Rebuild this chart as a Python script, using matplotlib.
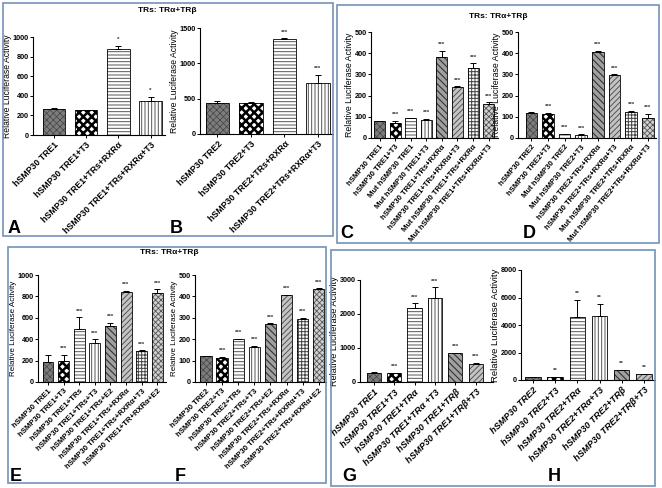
import matplotlib
matplotlib.use('Agg')
import matplotlib.pyplot as plt
from matplotlib.patches import Rectangle

plt.rcParams['font.family'] = ['Liberation Sans', 'DejaVu Sans']
plt.rcParams['font.weight'] = 'bold'

W, H = 662, 488
fig = plt.figure(figsize=(6.62, 4.88), dpi=100)

# ---- data ----
a_labels = ['hSMP30 TRE1', 'hSMP30 TRE1+T3', 'hSMP30 TRE1+TRs+RXRα', 'hSMP30 TRE1+TRs+RXRα+T3']
a_values = [270, 258, 880, 350]
a_errors = [10, 0, 30, 40]
a_stars = ['', '', '*', '*']

b_labels = ['hSMP30 TRE2', 'hSMP30 TRE2+T3', 'hSMP30 TRE2+TRs+RXRα', 'hSMP30 TRE2+TRs+RXRα+T3']
b_values = [440, 440, 1340, 720]
b_errors = [30, 15, 15, 120]
b_stars = ['', '', '***', '***']

c_labels = ['hSMP30 TRE1', 'hSMP30 TRE1+T3', 'Mut hSMP30 TRE1', 'Mut hSMP30 TRE1+T3',
            'hSMP30 TRE1+TRs+RXRα', 'hSMP30 TRE1+TRs+RXRα+T3',
            'Mut hSMP30 TRE1+TRs+RXRα', 'Mut hSMP30 TRE1+TRs+RXRα+T3']
c_values = [78, 72, 93, 87, 382, 240, 328, 160]
c_errors = [3, 8, 3, 3, 28, 3, 25, 8]
c_stars = [''] + ['***'] * 7

d_labels = ['hSMP30 TRE2', 'hSMP30 TRE2+T3', 'Mut hSMP30 TRE2', 'Mut hSMP30 TRE2+T3',
            'hSMP30 TRE2+TRs+RXRα', 'hSMP30 TRE2+TRs+RXRα+T3',
            'Mut hSMP30 TRE2+TRs+RXRα', 'Mut hSMP30 TRE2+TRs+RXRα+T3']
d_values = [120, 115, 18, 15, 408, 298, 125, 93]
d_errors = [1, 3, 3, 2, 2, 2, 3, 20]
d_stars = [''] + ['***'] * 7

e_labels = ['hSMP30 TRE1', 'hSMP30 TRE1+T3', 'hSMP30 TRE1+TRs', 'hSMP30 TRE1+TRs+T3',
            'hSMP30 TRE1+TRs+E2', 'hSMP30 TRE1+TRs+RXRα', 'hSMP30 TRE1+TRs+RXRα+T3',
            'hSMP30 TRE1+TR+RXRα+E2']
e_values = [190, 200, 500, 365, 520, 845, 290, 835]
e_errors = [60, 55, 105, 35, 35, 5, 5, 30]
e_stars = [''] + ['***'] * 7

f_labels = ['hSMP30 TRE2', 'hSMP30 TRE2+T3', 'hSMP30 TRE2+TRs', 'hSMP30 TRE2+TRs+T3',
            'hSMP30 TRE2+TRs+E2', 'hSMP30 TRE2+TRs+RXRα', 'hSMP30 TRE2+TRs+RXRα+T3',
            'hSMP30 TRE2+TRs+RXRα+E2']
f_values = [120, 113, 200, 165, 272, 408, 296, 435]
f_errors = [0, 3, 2, 5, 2, 0, 3, 3]
f_stars = [''] + ['***'] * 7

g_labels = ['hSMP30 TRE1', 'hSMP30 TRE1+T3', 'hSMP30 TRE1+TRα', 'hSMP30 TRE1+TRα +T3',
            'hSMP30 TRE1+TRβ', 'hSMP30 TRE1+TRβ+T3']
g_values = [270, 255, 2170, 2470, 850, 540]
g_errors = [20, 10, 150, 320, 10, 30]
g_stars = [''] + ['***'] * 5

h_labels = ['hSMP30 TRE2', 'hSMP30 TRE2+T3', 'hSMP30 TRE2+TRα', 'hSMP30 TRE2+TRα+T3',
            'hSMP30 TRE2+TRβ', 'hSMP30 TRE2+TRβ+T3']
h_values = [230, 200, 4600, 4650, 700, 420]
h_errors = [20, 20, 1200, 900, 40, 30]
h_stars = [''] + ['**'] * 5

# bar fills: face, hatch, hatch colour, hatch linewidth
STYLES = [
    ('#7c7c7c', 'xxxxx', '#444444', 0.5),
    ('white', 'xxxx', 'black', 1.8),
    ('white', '-----', '#555555', 0.7),
    ('white', '|||||', '#555555', 0.7),
    ('#a0a0a0', '\\\\\\\\\\', '#333333', 0.8),
    ('#c4c4c4', '//////', '#555555', 0.7),
    ('white', '+++++', '#444444', 0.7),
    ('#d0d0d0', 'xxxxxx', '#555555', 0.6),
]


def px_axes(left, right, top, zero):
    return fig.add_axes([left / W, 1 - zero / H, (right - left) / W, (zero - top) / H])


def panel(rect, values, errors, stars, labels, ymax, yticks, xlim,
          lab_size=6, rot=45, ylab_size=6, italic=False, width=0.7):
    ax = px_axes(*rect)
    for i, v in enumerate(values):
        face, hatch, hcol, hlw = STYLES[i]
        with plt.rc_context({'hatch.linewidth': hlw}):
            ax.bar(i, v, width, color=face, hatch=hatch, edgecolor=hcol, linewidth=0)
        ax.bar(i, v, width, fill=False, edgecolor='black', linewidth=0.6)
    n = len(values)
    ax.errorbar(range(n), values, yerr=[[0] * n, errors], fmt='none', ecolor='black',
                elinewidth=0.7, capsize=2.5, capthick=0.7)
    for i, (v, e, s) in enumerate(zip(values, errors, stars)):
        if s:
            ax.text(i, v + e + ymax * 0.035, s, ha='center', va='bottom', fontsize=4.5, color='#333333')
    ax.set_xlim(*xlim)
    ax.set_ylim(0, ymax)
    ax.set_yticks(yticks)
    ax.set_xticks(range(n))
    ax.set_xticklabels(labels, rotation=rot, ha='right', rotation_mode='anchor',
                       fontsize=lab_size, style='italic' if italic else 'normal')
    ax.tick_params(axis='y', labelsize=5.2, length=2, width=0.7, pad=1)
    ax.tick_params(axis='x', length=2.5, width=0.7, pad=1.5)
    for s in ['top', 'right']:
        ax.spines[s].set_visible(False)
    for s in ['left', 'bottom']:
        ax.spines[s].set_linewidth(0.8)
    ax.set_ylabel('Relative Luciferase Activity', fontsize=ylab_size, labelpad=0.5)
    ax.patch.set_alpha(0)
    return ax


panel((33, 165, 37, 135), a_values, a_errors, a_stars, a_labels, 1000, range(0, 1001, 200),
      (-0.65, 3.45), lab_size=6.3, ylab_size=6.2)
panel((200, 333, 28, 134), b_values, b_errors, b_stars, b_labels, 1500, [0, 500, 1000, 1500],
      (-0.52, 3.45), lab_size=6.3, ylab_size=6.2)
panel((371, 498, 32, 138), c_values, c_errors, c_stars, c_labels, 500, range(0, 501, 100),
      (-0.55, 7.6), lab_size=5.5, rot=50, ylab_size=6.3)
panel((518, 656, 32, 138), d_values, d_errors, d_stars, d_labels, 500, range(0, 501, 100),
      (-0.81, 7.5), lab_size=5.5, rot=50, ylab_size=6.3)
panel((38, 166, 275, 382), e_values, e_errors, e_stars, e_labels, 1000, range(0, 1001, 200),
      (-0.64, 7.56), lab_size=5.6, ylab_size=5.8)
panel((195, 326, 275, 382), f_values, f_errors, f_stars, f_labels, 500, range(0, 501, 100),
      (-0.68, 7.45), lab_size=5.6, ylab_size=5.8)
panel((360, 493, 280, 382), g_values, g_errors, g_stars, g_labels, 3000, [0, 1000, 2000, 3000],
      (-0.68, 5.85), lab_size=6.6, ylab_size=6.6, italic=True)
panel((521, 655, 270, 380), h_values, h_errors, h_stars, h_labels, 8000, range(0, 8001, 2000),
      (-0.54, 5.5), lab_size=6.6, ylab_size=6.8, italic=True)

# panel frames
for (x0, y0, x1, y1) in [(3, 3, 333, 236), (337, 5, 659, 243), (8, 247, 326, 483), (331, 250, 655, 486)]:
    fig.patches.append(Rectangle((x0 / W, 1 - y1 / H), (x1 - x0) / W, (y1 - y0) / H,
                                 transform=fig.transFigure, fill=False,
                                 edgecolor='#7393b8', linewidth=1.2))

# titles
for (x, y) in [(167, 10), (498, 16), (169, 252)]:
    fig.text(x / W, 1 - y / H, 'TRs: TRα+TRβ', ha='center', va='center', fontsize=6)

# panel letters
for letter, (x, y) in zip('ABCDEFGH', [(8, 233), (170, 233), (340, 238), (523, 238),
                                      (10, 481), (175, 481), (342, 481), (548, 481)]):
    fig.text(x / W, 1 - y / H, letter, ha='left', va='baseline', fontsize=13)

fig.savefig('out.png', dpi=100)
